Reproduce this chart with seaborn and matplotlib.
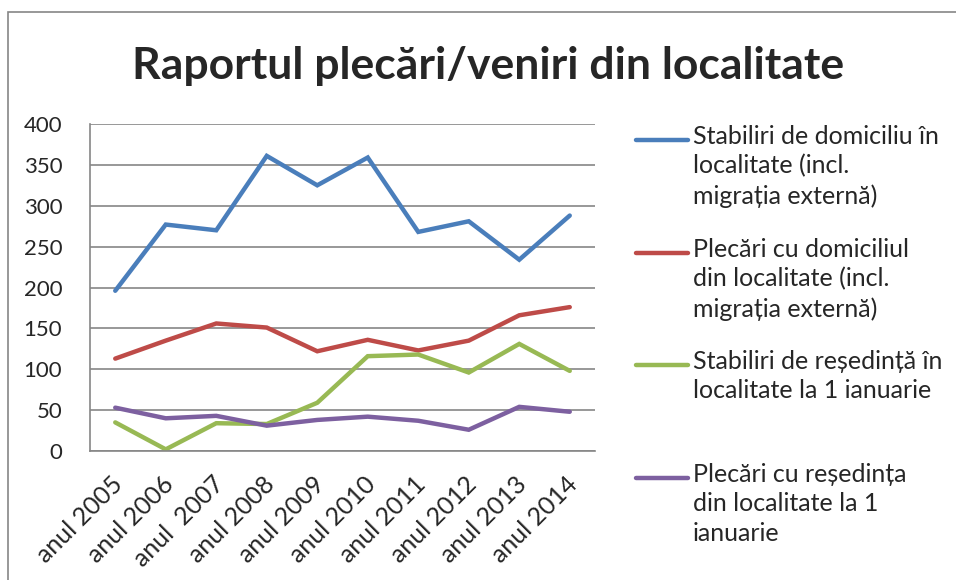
import pandas as pd
import matplotlib
matplotlib.use("Agg")
import matplotlib.pyplot as plt
import seaborn as sns
from matplotlib.lines import Line2D
from matplotlib.patches import Rectangle
from matplotlib.transforms import ScaledTranslation

# Data
years = ["anul 2005", "anul 2006", "anul  2007", "anul 2008", "anul 2009",
         "anul 2010", "anul 2011", "anul 2012", "anul 2013", "anul 2014"]

stabiliri_domiciliu = [196, 277, 270, 361, 325, 359, 268, 281, 234, 288]
plecari_domiciliu = [113, 135, 156, 151, 122, 136, 123, 135, 166, 176]
stabiliri_resedinta = [35, 2, 34, 33, 59, 116, 118, 96, 131, 98]
plecari_resedinta = [53, 40, 43, 31, 38, 42, 37, 26, 54, 48]

series_names = [
    "Stabiliri de domiciliu în\nlocalitate (incl.\nmigrația externă)",
    "Plecări cu domiciliul\ndin localitate (incl.\nmigrația externă)",
    "Stabiliri de reședință în\nlocalitate la 1 ianuarie",
    "Plecări cu reședința\ndin localitate la 1\nianuarie",
]
colors = ["#4A7EBB", "#BE4B48", "#98B954", "#7D60A0"]

# Build a long table for seaborn
frames = []
for name, vals in zip(series_names, [stabiliri_domiciliu, plecari_domiciliu,
                                     stabiliri_resedinta, plecari_resedinta]):
    frames.append(pd.DataFrame({"idx": range(len(years)), "value": vals, "serie": name}))
df = pd.concat(frames, ignore_index=True)

sns.set_style("white")
plt.rcParams["font.family"] = ["Lato", "DejaVu Sans"]

W, H = 956, 580
fig = plt.figure(figsize=(W / 100, H / 100), dpi=100)

# outer chart border
fig.add_artist(Rectangle((8 / W, -0.05), 1.2, (H - 12) / H + 0.05, transform=fig.transFigure,
                         fill=False, edgecolor="#868686", linewidth=1.2))

left, right, top, bottom = 90, 595, 124, 451
ax = fig.add_axes([left / W, 1 - bottom / H, (right - left) / W, (bottom - top) / H])

sns.lineplot(data=df, x="idx", y="value", hue="serie", palette=colors,
             linewidth=3.2, legend=False, ax=ax, solid_capstyle="round", solid_joinstyle="miter")

ax.set_xlim(-0.5, len(years) - 0.5)
ax.set_ylim(0, 400)
ax.set_yticks(range(0, 401, 50))
ax.set_xticks(range(len(years)))
ax.tick_params(axis="y", labelsize=16, length=0, pad=20)
ax.tick_params(axis="x", length=0, pad=6)
ax.set_xticklabels(years, rotation=45, ha="right", va="center", rotation_mode="anchor", fontsize=18)
# nudge the slanted year labels down, like Excel does
shift = ScaledTranslation(4 / 100, -21 / 100, fig.dpi_scale_trans)
for lbl in ax.get_xticklabels():
    lbl.set_transform(lbl.get_transform() + shift)
ax.set_xlabel("")
ax.set_ylabel("")
ax.yaxis.grid(True, color="#868686", linewidth=1.2)
ax.set_axisbelow(True)
for side in ["top", "right"]:
    ax.spines[side].set_visible(False)
for side in ["left", "bottom"]:
    ax.spines[side].set_color("#868686")
    ax.spines[side].set_linewidth(1.2)

fig.text(488 / W, 1 - 66 / H, "Raportul plecări/veniri din localitate",
         ha="center", va="center", fontsize=32, fontweight="bold")

# legend drawn by hand (Excel-like layout)
legend_y = [140, 253, 365, 478]
for name, c, y in zip(series_names, colors, legend_y):
    fig.add_artist(Line2D([636 / W, 688 / W], [1 - y / H, 1 - y / H], color=c,
                          linewidth=3.2, solid_capstyle="round", transform=fig.transFigure))
    fig.text(693 / W, 1 - (y - 15) / H, name, ha="left", va="top", fontsize=18,
             linespacing=1.33)

fig.savefig("out.png", dpi=100)
